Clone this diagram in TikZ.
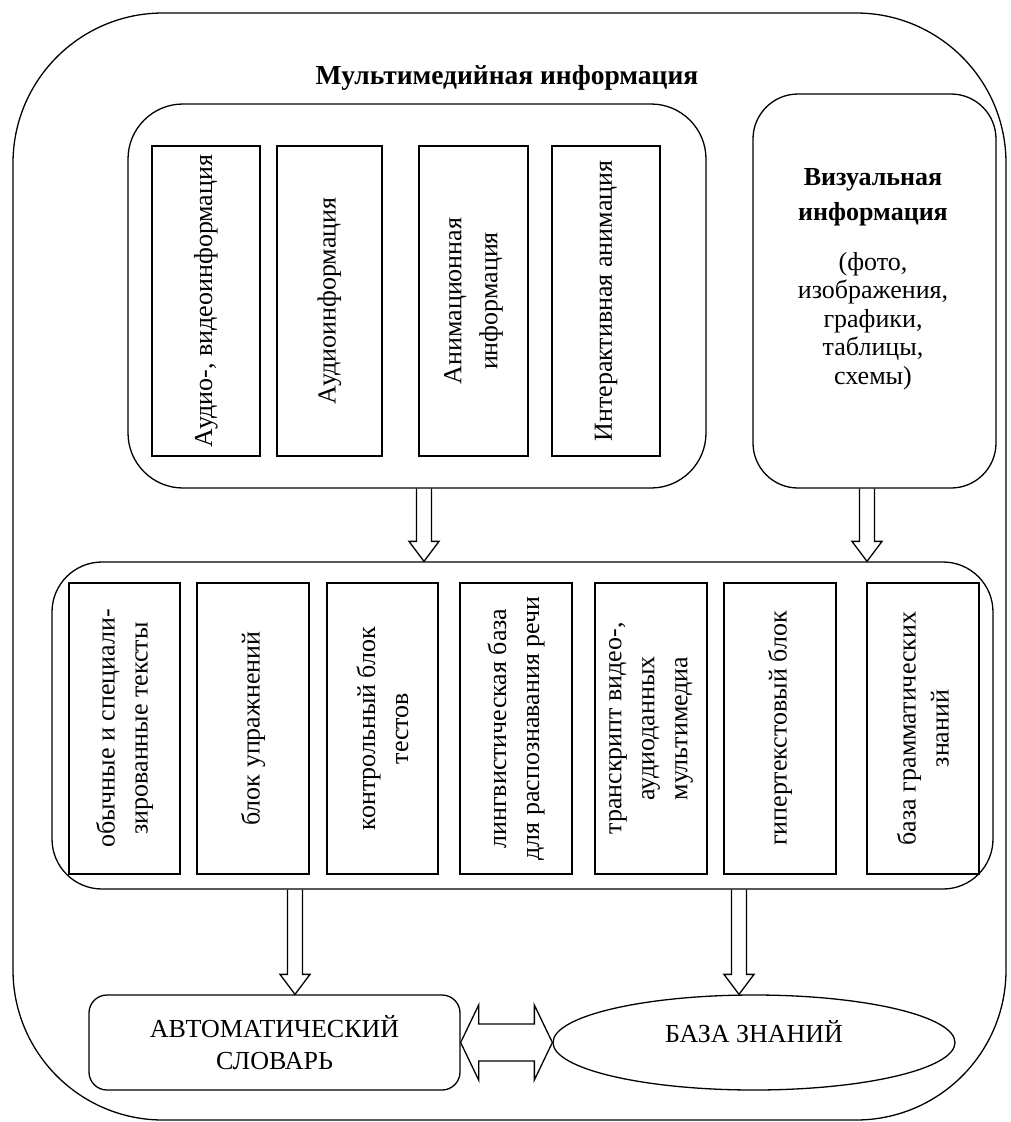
\documentclass[tikz,border=0pt]{standalone}
\usepackage{fontspec}
\setmainfont{Liberation Serif}
\usetikzlibrary{calc,shapes.geometric}
\newcommand\myDownArrow[2]{%
  \draw[barrow] ($(#1)+(-7.5,0)$) -- ($(#2)+(-7.5,-20)$) -- ($(#2)+(-15,-20)$) -- (#2)
    -- ($(#2)+(15,-20)$) -- ($(#2)+(7.5,-20)$) -- ($(#1)+(7.5,0)$);}
\begin{document}
\begin{tikzpicture}[x=1pt,y=-1pt,
  lw/.style={line width=1.3pt},
  rbox/.style={draw,lw,rounded corners=#1,inner sep=0pt},
  vbox/.style={draw,lw,rotate=90,align=center,inner sep=0pt,font=\fontsize{26}{33}\selectfont},
  barrow/.style={draw,lw,line join=miter}
]
\useasboundingbox (0,0) rectangle (1010,1122);

% outer frame
\node[rbox=150pt, minimum width=993pt, minimum height=1107pt] (outer) at (509.5,566.5) {};
\node[font=\fontsize{27.5}{30}\selectfont\bfseries] (title) at (507,78) {Мультимедийная информация};

% multimedia group
\node[rbox=55pt, minimum width=578pt, minimum height=384pt] (mm) at (417,296) {};
\node[vbox, minimum width=310pt, minimum height=108pt] (m1) at (206,301) {Аудио-, видеоинформация};
\node[vbox, minimum width=310pt, minimum height=105pt] (m2) at (329.5,301) {Аудиоинформация};
\node[vbox, minimum width=310pt, minimum height=109pt] (m3) at (473.5,301) {Анимационная\\[3pt]информация};
\node[vbox, minimum width=310pt, minimum height=108pt] (m4) at (606,301) {Интерактивная анимация};

% visual information
\node[rbox=45pt, minimum width=243pt, minimum height=394pt] (vis) at (874.5,291) {};
\node[align=center, font=\fontsize{26}{28.5}\selectfont] (vistext) at (873,279)
  {{\bfseries Визуальная}\\[6.5pt]{\bfseries информация}\\[21pt](фото,\\изображения,\\графики,\\таблицы,\\схемы)};

% middle group
\node[rbox=50pt, minimum width=941pt, minimum height=327pt] (mid) at (522.5,725.5) {};
\node[vbox, minimum width=291pt, minimum height=111pt] (b1) at (124.5,728.5) {обычные и специали-\\зированные тексты};
\node[vbox, minimum width=291pt, minimum height=112pt] (b2) at (253,728.5) {блок упражнений};
\node[vbox, minimum width=291pt, minimum height=111pt] (b3) at (382.5,728.5) {контрольный блок\\тестов};
\node[vbox, minimum width=291pt, minimum height=112pt] (b4) at (516,728.5) {лингвистическая база\\для распознавания речи};
\node[vbox, minimum width=291pt, minimum height=112pt] (b5) at (651,728.5) {транскрипт видео-,\\аудиоданных\\мультимедиа};
\node[vbox, minimum width=291pt, minimum height=112pt] (b6) at (780,728.5) {гипертекстовый блок};
\node[vbox, minimum width=291pt, minimum height=112pt] (b7) at (923,728.5) {база грамматических\\знаний};

% bottom
\node[rbox=18pt, minimum width=371pt, minimum height=95pt, align=center, font=\fontsize{26}{32}\selectfont] (dict) at (274.5,1042.5) {АВТОМАТИЧЕСКИЙ\\СЛОВАРЬ};
\node[draw, lw, ellipse, minimum width=402pt, minimum height=95pt, inner sep=0pt] (kb) at (754,1042.5) {};
\node[font=\fontsize{26}{30}\selectfont] (kbtext) at (754,1032) {БАЗА ЗНАНИЙ};

% arrows
\coordinate (a1s) at ($(mm.south)+(7,0)$);
\coordinate (a1t) at (a1s |- mid.north);
\myDownArrow{a1s}{a1t}
\coordinate (a2s) at ($(vis.south)+(-7.5,0)$);
\coordinate (a2t) at (a2s |- mid.north);
\myDownArrow{a2s}{a2t}
\coordinate (a3t) at ($(dict.north)+(20.5,0)$);
\coordinate (a3s) at (a3t |- mid.south);
\myDownArrow{a3s}{a3t}
\coordinate (a4t) at ($(kb.north)+(-15,0)$);
\coordinate (a4s) at (a4t |- mid.south);
\myDownArrow{a4s}{a4t}

\draw[barrow] (dict.east) -- ($(dict.east)+(18,-37.5)$) -- ($(dict.east)+(18,-18.5)$)
  -- ($(kb.west)+(-18,-18.5)$) -- ($(kb.west)+(-18,-37.5)$) -- (kb.west)
  -- ($(kb.west)+(-18,37.5)$) -- ($(kb.west)+(-18,18.5)$)
  -- ($(dict.east)+(18,18.5)$) -- ($(dict.east)+(18,37.5)$) -- cycle;
\end{tikzpicture}
\end{document}
